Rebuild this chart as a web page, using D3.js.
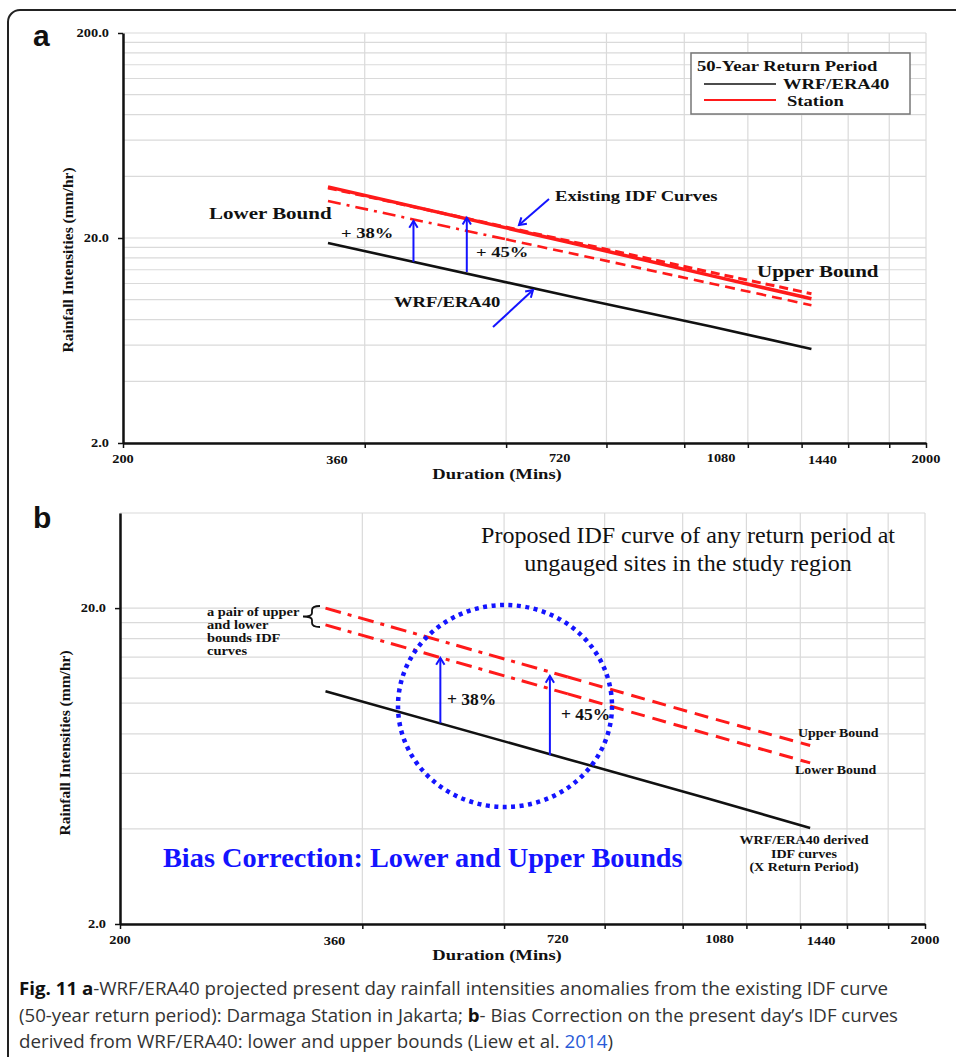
<!DOCTYPE html>
<html>
<head>
<meta charset="utf-8">
<script src="https://cdn.jsdelivr.net/npm/d3@7"></script>
<style>
  body { margin: 0; background: #fff; }
  svg { display: block; }
</style>
</head>
<body>
<svg id="fig" width="956" height="1057"></svg>
<script>
// ---- data ----
var gridDurations = [200, 400, 600, 800, 1000, 1200, 1400, 1600, 1800, 2000];
var durationLabels = [200, 360, 720, 1080, 1440, 2000];
var gridIntensityA = [2, 4, 6, 8, 10, 12, 14, 16, 18, 20, 40, 60, 80, 100, 120, 140, 160, 180, 200];
var gridIntensityB = [2, 4, 6, 8, 10, 12, 14, 16, 18, 20, 40];
var intensityLabelsA = [2, 20, 200];
var intensityLabelsB = [2, 20];

// panel a : 50-year return period
var durA = [360, 720, 1080, 1440];
var wrfA = [18.9, 10.4, 7.4, 5.75];
var stationA = [35.5, 19.0, 13.1, 10.1];
var upperA = [35.1, 19.3, 13.6, 10.7];
var durLowerA = [360, 600, 720, 1080, 1440];
var lowerA = [30.3, 19.7, 16.9, 12.0, 9.4];

// panel b : proposed bounds
var durB = [360, 720, 1080, 1440];
var wrfB = [10.9, 6.65, 4.97, 4.03];
var upperB = [20.0, 12.1, 9.0, 7.35];
var lowerB = [17.7, 10.7, 7.96, 6.47];

// +38% / +45% arrows (duration, from, to)
var arrowDurA = [460, 536];
var arrowFromA = [15.3, 13.65];
var arrowToA = [24.2, 25.1];
var arrowDurB = [500, 684];
var arrowFromB = [8.65, 6.85];
var arrowToB = [13.9, 12.2];

var RED = '#ff1a1a', BLUE = '#1414ff', GRID = '#dadada';
var serif = '"Liberation Serif", "Times New Roman", serif';

var svg = d3.select('#fig');

// outer frame
svg.append('rect').attr('x', 8).attr('y', 10).attr('width', 1000).attr('height', 1100)
  .attr('rx', 12).attr('fill', 'none').attr('stroke', '#222').attr('stroke-width', 2);

function label(g, x, y, str, o) {
  o = o || {};
  return g.append('text')
    .attr('transform', 'translate(' + x + ',' + y + ') scale(' + (o.sx || 1) + ',1)')
    .attr('font-family', o.family || serif)
    .attr('font-size', o.size || 15)
    .attr('font-weight', o.weight || 'bold')
    .attr('text-anchor', o.anchor || 'start')
    .attr('fill', o.color || '#111')
    .text(str);
}

function arrow(g, x1, y1, x2, y2) {
  var a = Math.atan2(y2 - y1, x2 - x1), L = 8, w = 0.55;
  g.append('line').attr('x1', x1).attr('y1', y1).attr('x2', x2).attr('y2', y2)
    .attr('stroke', BLUE).attr('stroke-width', 2);
  g.append('path')
    .attr('d', 'M' + (x2 - L * Math.cos(a - w)) + ',' + (y2 - L * Math.sin(a - w)) +
      'L' + x2 + ',' + y2 +
      'L' + (x2 - L * Math.cos(a + w)) + ',' + (y2 - L * Math.sin(a + w)))
    .attr('fill', 'none').attr('stroke', BLUE).attr('stroke-width', 2);
}

function series(durs, vals) {
  return durs.map(function(d, i) { return {d: d, v: vals[i]}; });
}

function drawPanel(p) {
  var g = svg.append('g');
  var x = p.x, y = p.y;
  var x0 = x.range()[0], x1 = x.range()[1], y0 = y.range()[0], y1 = y.range()[1];

  // grid
  g.selectAll('.hg').data(p.gridY).enter().append('line')
    .attr('x1', x0).attr('x2', x1).attr('y1', y).attr('y2', y)
    .attr('stroke', GRID).attr('stroke-width', 1.2);
  g.selectAll('.vg').data(gridDurations).enter().append('line')
    .attr('x1', x).attr('x2', x).attr('y1', y0).attr('y2', y1)
    .attr('stroke', GRID).attr('stroke-width', 1.2);

  // axes
  var ax = g.append('g').attr('transform', 'translate(0,' + y0 + ')')
    .call(d3.axisBottom(x).tickValues(gridDurations).tickSize(5).tickSizeOuter(0).tickFormat(''));
  var ay = g.append('g').attr('transform', 'translate(' + x0 + ',0)')
    .call(d3.axisLeft(y).tickValues(p.labelsY).tickSize(5).tickSizeOuter(0).tickPadding(9)
      .tickFormat(d3.format('.1f')));
  [ax, ay].forEach(function(a) {
    a.select('.domain').attr('stroke', '#111').attr('stroke-width', 2.5);
    a.selectAll('.tick line').attr('stroke', '#111').attr('stroke-width', 1.5);
  });
  ay.selectAll('text').attr('font-family', serif).attr('font-weight', 'bold')
    .attr('font-size', 12).attr('fill', '#111')
    .attr('transform', 'scale(1.2,1)')
    .attr('x', -14 / 1.2);

  // x tick labels (hand placed in original)
  var nudge = {200: 0, 360: 9, 720: -10, 1080: 10, 1440: 11, 2000: 0};
  var lift = {200: 1, 720: 2, 1080: 2, 2000: 1};
  durationLabels.forEach(function(d) {
    label(g, x(d) + nudge[d], y0 + 21 - (lift[d] || 0), d, {size: 12, anchor: 'middle', sx: 1.2});
  });

  // axis titles
  label(g, 497, y0 + 36, 'Duration (Mins)', {size: 15.5, anchor: 'middle', sx: 1.2});
  g.append('text')
    .attr('transform', 'translate(' + p.yTitleX + ',' + p.yTitleY + ') rotate(-90)')
    .attr('font-family', serif).attr('font-weight', 'bold').attr('font-size', 15.5)
    .attr('text-anchor', 'middle').attr('fill', '#111')
    .text('Rainfall Intensities (mm/hr)');

  // panel letter
  label(g, 33, p.letterY, p.letter, {family: '"Liberation Sans", Arial, sans-serif', size: 30});

  return g;
}

function lineOf(x, y) {
  return d3.line().x(function(d) { return x(d.d); }).y(function(d) { return y(d.v); });
}

// ================= panel a =================
var xA = d3.scaleLog().domain([200, 2000]).range([123, 926]);
var yA = d3.scaleLog().domain([2, 200]).range([443, 33]);
var gA = drawPanel({x: xA, y: yA, gridY: gridIntensityA, labelsY: intensityLabelsA,
  yTitleX: 73, yTitleY: 260, letter: 'a', letterY: 46});
var lA = lineOf(xA, yA);

gA.append('path').attr('d', lA(series(durA, wrfA)))
  .attr('fill', 'none').attr('stroke', '#111').attr('stroke-width', 2.6);
gA.append('path').attr('d', lA(series(durA, stationA)))
  .attr('fill', 'none').attr('stroke', RED).attr('stroke-width', 3.5);
gA.append('path').attr('d', lA(series(durA, upperA)))
  .attr('fill', 'none').attr('stroke', RED).attr('stroke-width', 3).attr('stroke-dasharray', '9,5');
var lowA = series(durLowerA, lowerA);
gA.append('path').attr('d', lA(lowA.filter(function(d) { return d.d <= 600; })))
  .attr('fill', 'none').attr('stroke', RED).attr('stroke-width', 2.6).attr('stroke-dasharray', '13,6,3,6');
gA.append('path').attr('d', lA(lowA.filter(function(d) { return d.d >= 600; })))
  .attr('fill', 'none').attr('stroke', RED).attr('stroke-width', 2.6).attr('stroke-dasharray', '10,6');

arrowDurA.forEach(function(d, i) {
  arrow(gA, xA(d), yA(arrowFromA[i]), xA(d), yA(arrowToA[i]));
});
arrow(gA, 549, 199, 519, 225);
arrow(gA, 493, 327, 533, 290);

label(gA, 209, 219, 'Lower Bound', {size: 17.5, sx: 1.2});
label(gA, 341, 238, '+ 38%', {size: 15.5, sx: 1.2});
label(gA, 476, 257, '+ 45%', {size: 15.5, sx: 1.2});
label(gA, 555, 201, 'Existing IDF Curves', {size: 15.5, sx: 1.2});
label(gA, 394, 307, 'WRF/ERA40', {size: 15.5, sx: 1.2});
label(gA, 757, 277, 'Upper Bound', {size: 17.5, sx: 1.2});

// legend
var leg = gA.append('g');
leg.append('rect').attr('x', 691).attr('y', 53).attr('width', 219).attr('height', 61)
  .attr('fill', '#fff').attr('stroke', '#777').attr('stroke-width', 1.5);
label(leg, 697, 71, '50-Year Return Period', {size: 15.5, sx: 1.2});
leg.append('line').attr('x1', 704).attr('x2', 776).attr('y1', 84).attr('y2', 84)
  .attr('stroke', '#111').attr('stroke-width', 1.6);
leg.append('line').attr('x1', 704).attr('x2', 776).attr('y1', 100).attr('y2', 100)
  .attr('stroke', RED).attr('stroke-width', 2);
label(leg, 783, 89, 'WRF/ERA40', {size: 15.5, sx: 1.2});
label(leg, 787, 106, 'Station', {size: 15.5, sx: 1.2});

// ================= panel b =================
var xB = d3.scaleLog().domain([200, 2000]).range([120, 925]);
var yB = d3.scaleLog().domain([2, 40]).range([924, 513]);
var gB = drawPanel({x: xB, y: yB, gridY: gridIntensityB, labelsY: intensityLabelsB,
  yTitleX: 70, yTitleY: 743, letter: 'b', letterY: 528});
var lB = lineOf(xB, yB);

gB.append('path').attr('d', lB(series(durB, wrfB)))
  .attr('fill', 'none').attr('stroke', '#111').attr('stroke-width', 2.6);
[upperB, lowerB].forEach(function(vals) {
  var s = series(durB, vals);
  gB.append('path').attr('d', lB(s.filter(function(d) { return d.d <= 720; })))
    .attr('fill', 'none').attr('stroke', RED).attr('stroke-width', 3).attr('stroke-dasharray', '16,7,4,7');
  gB.append('path').attr('d', lB(s.filter(function(d) { return d.d >= 720; })))
    .attr('fill', 'none').attr('stroke', RED).attr('stroke-width', 3).attr('stroke-dasharray', '14,8');
});

arrowDurB.forEach(function(d, i) {
  arrow(gB, xB(d), yB(arrowFromB[i]), xB(d), yB(arrowToB[i]));
});

// dotted circle
gB.append('ellipse').attr('cx', 505).attr('cy', 706).attr('rx', 107).attr('ry', 101)
  .attr('fill', 'none').attr('stroke', BLUE).attr('stroke-width', 4.5)
  .attr('stroke-dasharray', '4,4.5');

// brace
gB.append('path')
  .attr('d', 'M320,606 Q312,606 312,610 L312,613 Q312,616.5 303,616.5 Q312,616.5 312,620 L312,623 Q312,627 320,627')
  .attr('fill', 'none').attr('stroke', '#111').attr('stroke-width', 1.8);

label(gB, 688, 543, 'Proposed IDF curve of any return period at', {size: 24, weight: 'normal', anchor: 'middle'});
label(gB, 688, 571, 'ungauged sites in the study region', {size: 24, weight: 'normal', anchor: 'middle'});
['a pair of upper', 'and lower', 'bounds IDF', 'curves'].forEach(function(s, i) {
  label(gB, 207, 615.5 + i * 13.3, s, {size: 13.5, sx: 1.07});
});
label(gB, 447, 705, '+ 38%', {size: 17.5});
label(gB, 561, 720, '+ 45%', {size: 17.5});
label(gB, 798, 737, 'Upper Bound', {size: 13.5, sx: 1.03});
label(gB, 795, 774, 'Lower Bound', {size: 13.5, sx: 1.03});
['WRF/ERA40 derived', 'IDF curves', '(X Return Period)'].forEach(function(s, i) {
  label(gB, 804, 844 + i * 13.5, s, {size: 13.5, anchor: 'middle', sx: 1.04});
});
label(gB, 163, 867, 'Bias Correction: Lower and Upper Bounds', {size: 28.3, color: BLUE});

// ================= caption =================
var cap = svg.append('g').attr('font-family', '"Liberation Sans Narrow", "Open Sans", sans-serif')
  .attr('font-size', 18).attr('fill', '#333');
var capLines = [
  [['Fig. 11 ', 'bold'], ['a', 'bold'], ['-WRF/ERA40 projected present day rainfall intensities anomalies from the existing IDF curve', 'normal']],
  [['(50-year return period): Darmaga Station in Jakarta; ', 'normal'], ['b', 'bold'], ['- Bias Correction on the present day\u2019s IDF curves', 'normal']],
  [['derived from WRF/ERA40: lower and upper bounds (Liew et al. ', 'normal'], ['2014', 'link'], [')', 'normal']]
];
var capEnd = [888, 898, 613];
capLines.forEach(function(parts, i) {
  var t = cap.append('text').attr('x', 19).attr('y', 995 + i * 26.5)
    .attr('textLength', capEnd[i] - 19).attr('lengthAdjust', 'spacingAndGlyphs');
  parts.forEach(function(p) {
    t.append('tspan').text(p[0])
      .attr('font-weight', p[1] === 'bold' ? 'bold' : 'normal')
      .attr('fill', p[1] === 'link' ? '#2a5bd7' : (p[1] === 'bold' ? '#111' : '#333'));
  });
});
</script>
</body>
</html>
